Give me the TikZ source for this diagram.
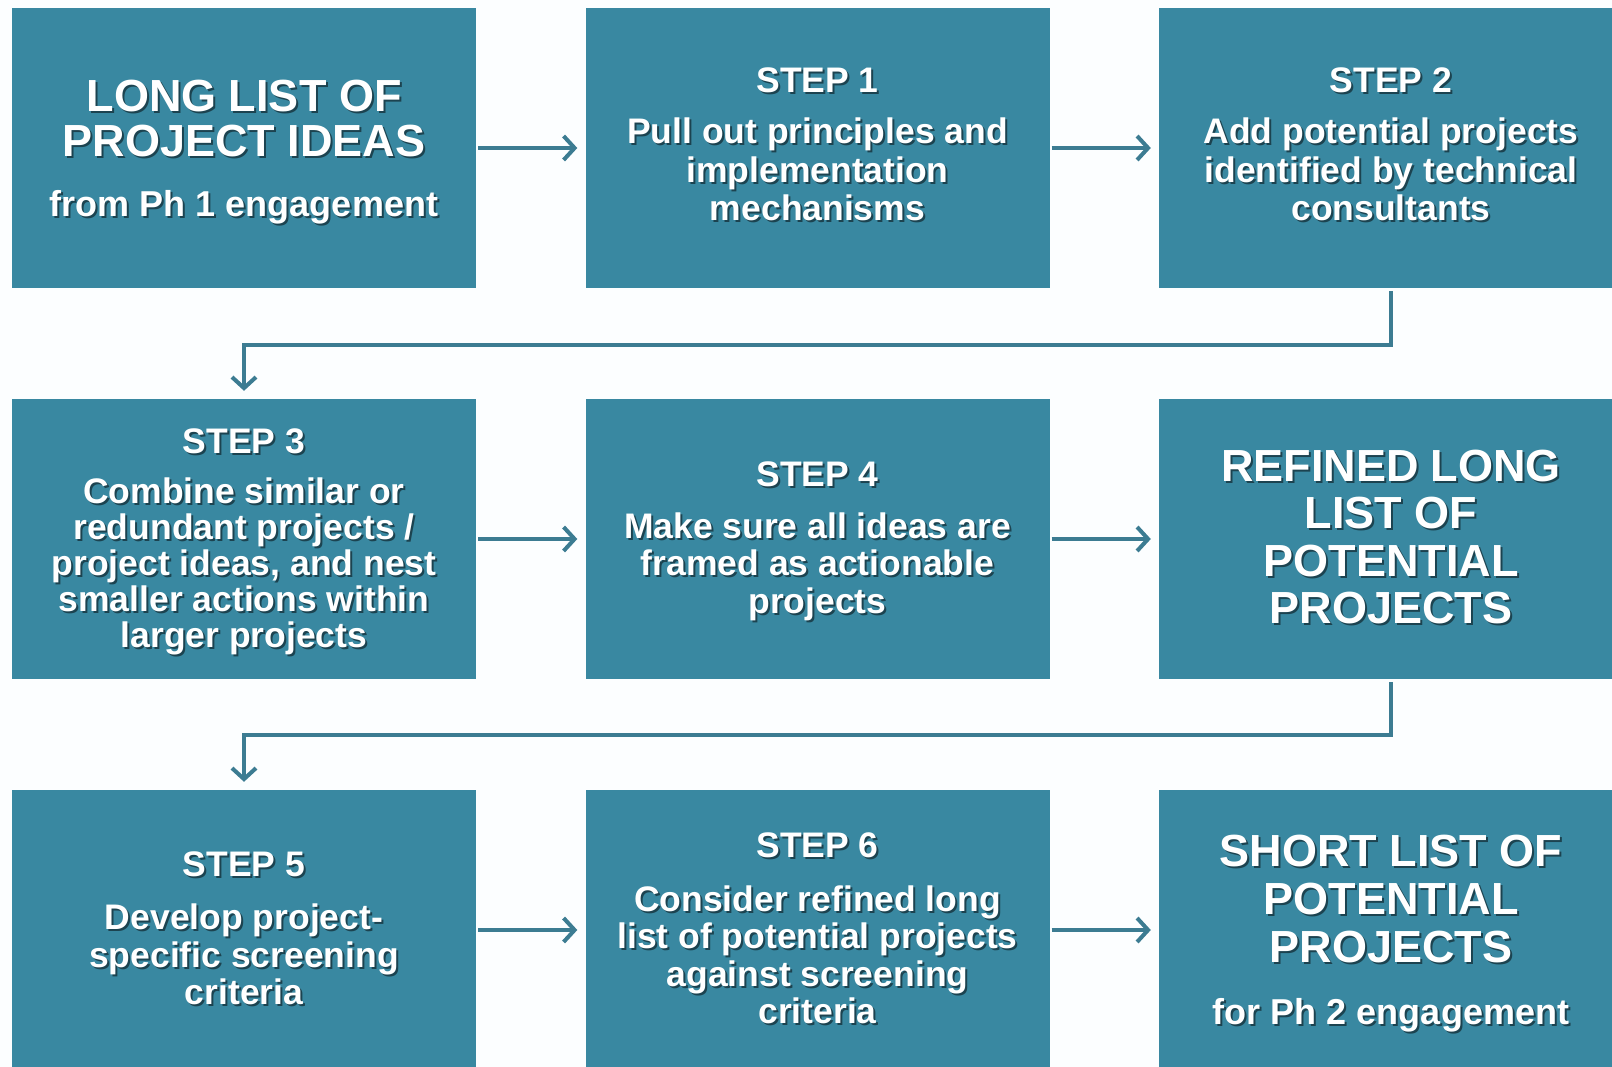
\documentclass[tikz,border=0pt]{standalone}
\usepackage{fontspec}
\setmainfont{Liberation Sans}
\usetikzlibrary{arrows.meta}
\definecolor{boxteal}{RGB}{57,136,161}
\definecolor{arrowteal}{RGB}{60,124,146}
\definecolor{bgwhite}{RGB}{252,254,255}
\tikzset{
  box/.style={fill=boxteal, draw=none, minimum width=464pt, minimum height=280pt, inner sep=0pt},
  conn/.style={draw=arrowteal, line width=4pt, -{Straight Barb[length=11pt,width=24pt,line width=4pt]}},
  elbow/.style={draw=arrowteal, line width=4pt, line join=miter, -{Straight Barb[length=11pt,width=24pt,line width=4pt]}},
  titletxt/.style={font=\fontsize{45}{48}\selectfont\bfseries},
  subtxt/.style={font=\fontsize{36}{40}\selectfont\bfseries},
  steptxt/.style={font=\fontsize{35.5}{38}\selectfont\bfseries},
  shadowtxt/.style={text=black, text opacity=0.5, inner sep=0pt},
  whitetxt/.style={text=white, inner sep=0pt}
}
\newcommand\txtline[5]{%
  \node[#4, shadowtxt, anchor=base] (#1s) at (#2+2,#3+2) {#5};
  \node[#4, whitetxt, anchor=base] (#1) at (#2,#3) {#5};}
\begin{document}
\begin{tikzpicture}[x=1pt,y=-1pt]
\useasboundingbox (0,0) rectangle (1612,1067);
\clip (0,0) rectangle (1612,1067);
\fill[bgwhite] (0,0) rectangle (1612,1067);

% boxes
\node[box] (b1) at (244,148) {};
\node[box] (s1) at (817.5,148) {};
\node[box] (s2) at (1391,148) {};
\node[box] (s3) at (244,539) {};
\node[box] (s4) at (817.5,539) {};
\node[box] (b2) at (1391,539) {};
\node[box] (s5) at (244,930) {};
\node[box] (s6) at (817.5,930) {};
\node[box] (b3) at (1391,930) {};

% box 1
\txtline{t11}{244}{112}{titletxt}{LONG LIST OF}
\txtline{t12}{244}{157}{titletxt}{PROJECT IDEAS}
\txtline{t13}{244}{217}{subtxt}{from Ph 1 engagement}
% step 1
\txtline{a10}{817.5}{93}{steptxt}{STEP 1}
\txtline{a11}{817.5}{144}{steptxt}{Pull out principles and}
\txtline{a12}{817.5}{182.5}{steptxt}{implementation}
\txtline{a13}{817.5}{221}{steptxt}{mechanisms}
% step 2
\txtline{a20}{1391}{93}{steptxt}{STEP 2}
\txtline{a21}{1391}{144}{steptxt}{Add potential projects}
\txtline{a22}{1391}{182.5}{steptxt}{identified by technical}
\txtline{a23}{1391}{221}{steptxt}{consultants}
% step 3
\txtline{a30}{244}{453}{steptxt}{STEP 3}
\txtline{a31}{244}{503}{steptxt}{Combine similar or}
\txtline{a32}{244}{539}{steptxt}{redundant projects /}
\txtline{a33}{244}{575}{steptxt}{project ideas, and nest}
\txtline{a34}{244}{611}{steptxt}{smaller actions within}
\txtline{a35}{244}{647}{steptxt}{larger projects}
% step 4
\txtline{a40}{817.5}{486}{steptxt}{STEP 4}
\txtline{a41}{817.5}{538}{steptxt}{Make sure all ideas are}
\txtline{a42}{817.5}{575.5}{steptxt}{framed as actionable}
\txtline{a43}{817.5}{613}{steptxt}{projects}
% refined
\txtline{t21}{1391}{481}{titletxt}{REFINED LONG}
\txtline{t22}{1391}{528.5}{titletxt}{LIST OF}
\txtline{t23}{1391}{576}{titletxt}{POTENTIAL}
\txtline{t24}{1391}{623}{titletxt}{PROJECTS}
% step 5
\txtline{a50}{244}{876}{steptxt}{STEP 5}
\txtline{a51}{244}{929}{steptxt}{Develop project-}
\txtline{a52}{244}{967}{steptxt}{specific screening}
\txtline{a53}{244}{1004}{steptxt}{criteria}
% step 6
\txtline{a60}{817.5}{857}{steptxt}{STEP 6}
\txtline{a61}{817.5}{911}{steptxt}{Consider refined long}
\txtline{a62}{817.5}{948.5}{steptxt}{list of potential projects}
\txtline{a63}{817.5}{986}{steptxt}{against screening}
\txtline{a64}{817.5}{1023.5}{steptxt}{criteria}
% short list
\txtline{t31}{1391}{866}{titletxt}{SHORT LIST OF}
\txtline{t32}{1391}{914}{titletxt}{POTENTIAL}
\txtline{t33}{1391}{962}{titletxt}{PROJECTS}
\txtline{t34}{1391}{1024}{subtxt}{for Ph 2 engagement}

% horizontal arrows
\draw[conn, shorten <=2pt, shorten >=8pt] (b1.east) -- (s1.west);
\draw[conn, shorten <=2pt, shorten >=8pt] (s1.east) -- (s2.west);
\draw[conn, shorten <=2pt, shorten >=8pt] (s3.east) -- (s4.west);
\draw[conn, shorten <=2pt, shorten >=8pt] (s4.east) -- (b2.west);
\draw[conn, shorten <=2pt, shorten >=8pt] (s5.east) -- (s6.west);
\draw[conn, shorten <=2pt, shorten >=8pt] (s6.east) -- (b3.west);

% elbow connectors
\coordinate (k1) at (1391,345);
\coordinate (k2) at (1391,735);
\draw[elbow, shorten <=3pt, shorten >=8pt] (s2.south) -- (k1) -| (s3.north);
\draw[elbow, shorten <=3pt, shorten >=8pt] (b2.south) -- (k2) -| (s5.north);
\end{tikzpicture}
\end{document}
